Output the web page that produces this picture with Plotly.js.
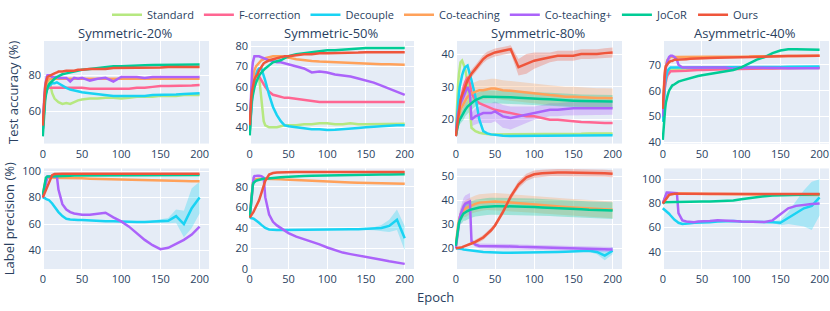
<!DOCTYPE html>
<html><head><meta charset="utf-8">
<script src="https://cdn.plot.ly/plotly-3.0.1.min.js"></script>
<style>html,body{margin:0;padding:0;background:#fff}#chart{width:830px;height:311px}</style>
</head><body><div id="chart"></div>
<script>
// Epoch grid (x values)
const epochs = [0,1,2,3,4,5,6,8,10,12,15,18,20,25,30,35,40,45,50,60,70,80,90,100,110,120,130,140,150,160,170,180,190,200];
const methods = ['Standard','F-correction','Decouple','Co-teaching','Co-teaching+','JoCoR','Ours'];
const panelTitles = ['Symmetric-20%','Symmetric-50%','Symmetric-80%','Asymmetric-40%'];

// ---- Test accuracy, Symmetric-20%
const accStd20  = [50,58,64,68,72,75,77,78,74,70,67,66,65,64,64.5,64,65,66,66.5,67,67,67.5,67.5,67,67.5,68,68,68,68.5,68.5,68.5,69,69,69];
const accFc20   = [50,60,66,69,71,72,72.5,73,73,73,73,73,73,73,73,73,73,73,73,72.5,72.5,72.5,72.5,72.5,72.5,73,73,73.5,74,74,74,74.3,74.3,74.5];
const accDec20  = [50,58,64,68,70,72,73,74,75,75.5,75.5,76,75.5,74,73,72,71.5,71,70.5,70,69.5,69,68.5,68.5,68.5,68.5,68.5,69,69,69,69.2,69.5,69.7,70];
const accCot20  = [50,60,67,71,74,76,77,78,78,78,78,78,78,78,78,78,78,78,78,78,78,78,78,78,78,78,78,78,78,78,78,78,78,78];
const accCotp20 = [50,62,69,74,77,79,80,80,79.5,79,79,79,78.5,78.5,78.5,76.5,78.5,78,78.5,77,78,78.5,76.5,79,79,79,78.5,79,79,79,79,79,79,79];
const accJoc20  = [46,55,62,66,69,71,73,75,76,77,78,79,79.5,80.5,81,81.5,82,82.5,83,83.5,84,84.5,85,85,85.3,85.5,85.5,85.7,85.8,86,86,86,86,86];
const accOurs20 = [52,62,69,73,76,78,79,79.5,80,80.5,81,81.5,82,82,82.5,82.5,82.5,83,83,83.5,83.5,83.5,84,84,84,84,84,84.3,84.3,84.5,84.5,84.5,84.5,84.5];

// ---- Test accuracy, Symmetric-50%
const accStd50  = [38,45,52,57,61,63,65,66,66.5,65,52,43,41,40,40,40,40.5,41,41,41,41.5,41.5,42,42,41.5,41.5,42,41.5,41.5,41.5,41.5,41.5,41.7,41.8];
const accFc50   = [38,46,53,58,61,63,64.5,66,66,65,63,61,60,57.5,56,55.5,55,54.5,54.5,54,53.5,53,52.5,52.5,52.5,52.5,52.5,52.5,52.3,52.3,52.5,52.5,52.5,52.5];
const accDec50  = [38,44,50,55,58,61,63,66,68,69,69,66,63,56,50,46,43,41,40.5,40,39.5,39,39,38.7,38.8,39,39.5,39.7,40,40.3,40.5,40.7,41,41];
const accCot50  = [40,48,55,60,63,66,68,70,71,72,73,73.5,74,74.5,75,75,75,74.5,74.3,73.5,73,72.7,72.4,72.2,72,71.8,71.6,71.5,71.4,71.2,71.1,71,70.9,70.8];
const accCotp50 = [40,52,62,68,72,74,75,75,75,75,74.5,74,74,73,72.5,72,72,71.5,71,70,69,67,67.5,67,66,65.5,65,64,63,62,60.5,59,57.5,56];
const accJoc50  = [36,45,51,54,56,58,59.5,62,64,65.5,67,68.5,69,70.5,72,72.5,73,74,75,76,76.5,77,77.5,78,78,78.3,78.5,78.7,79,79,79,79,79,79];
const accOurs50 = [41,50,55,58,60,62,63.5,65,66,68,70,71.5,72,73,73.5,74,74.5,75,75,75.5,76,76,76.5,76.5,76.5,76.5,76.8,76.8,77,77,77,77,77,77];

// ---- Test accuracy, Symmetric-80%
const accStd80  = [16,22,27,31,34,36,37.5,38,37,35.5,31,22,17.5,16.5,16,15.8,15.6,15.5,15.5,15.5,15.5,15.5,15.5,15.5,15.5,15.6,15.6,15.7,15.7,15.7,15.8,15.8,15.8,15.8];
const accFc80   = [15,18,20,22,24,25,26.5,28,30,31.5,33,31,28,26,25,24.5,24,23.5,23,22.5,22,21.5,21,21,20.5,20,20,19.7,19.5,19.3,19.2,19,19,19];
const accDec80  = [15,19,23,26,28,30,31.5,33.5,35,36,36.5,34,32,27,20,16.5,15.8,15.5,15.3,15.1,15,15,15,15,15,15,15.1,15.1,15.1,15.2,15.2,15.2,15.2,15.2];
const accCot80  = [15,17,19,20,21,22,23,24,25,26,27,27.5,28,28.5,29,29,29.3,29.5,29.5,29,28.8,28.5,28.3,28,27.8,27.5,27.3,27,27,26.8,26.7,26.6,26.6,26.5];
const accCotp80 = [15,18,20,22,23,24,25,26,27,28.5,30,28,20,21,21.5,22,22,22,22.5,21,20.5,21,21.5,22,22.5,23,23,23.3,23.5,23.5,23.5,23.5,23.5,23.5];
const accJoc80  = [15,16.5,17.5,18.5,19.5,20,20.5,21.5,22,23,24,24.5,25,26,26.5,27,27,27,27,27,26.8,26.7,26.5,26.5,26.3,26.2,26,26,25.8,25.7,25.6,25.6,25.5,25.5];
const accOurs80 = [15,17,19,21,23,25,26,27.5,29,30,32,33.5,34,35.5,37,38.5,39.5,40,40.5,41,41.5,36,37,38,38.5,39,39.5,39.5,39.5,40,40,40,40.3,40.5];

// ---- Test accuracy, Asymmetric-40%
const accStd40  = [48,58,63,66,67,67.5,68,68,68.5,68.5,68.5,68.5,68.5,68.5,68.5,68.5,68.5,68.5,68.5,68.5,68.5,68.5,68.5,68.5,68.7,68.7,68.7,68.7,68.8,68.8,68.8,68.8,68.8,68.8];
const accFc40   = [50,56,60,62,64,65,66,67,67.5,67.5,67.5,67.5,67.5,67.5,67.7,67.8,68,68,68,68,68.2,68.3,68.4,68.5,68.5,68.6,68.6,68.6,68.7,68.8,68.8,68.9,69,69];
const accDec40  = [48,55,60,63,65,66,67.5,68.5,69,69,69,69,69,69,69,69,69,69,69,69,69,69,69,69,69,69.1,69.1,69.2,69.2,69.3,69.3,69.3,69.4,69.4];
const accCot40  = [52,60,65,68,70,71,72,72.5,73,73,73,73,73,73,73,73,73,73,73,73,73,73,73,73.2,73.2,73.3,73.3,73.3,73.4,73.4,73.4,73.5,73.5,73.5];
const accCotp40 = [50,58,64,67,69,70.5,71.5,73,73.5,73.5,73,72,70,69,69,69,69,69,69,69,69,69,68.5,69,69,69,68.8,68.8,68.8,68.7,68.7,68.7,68.7,68.7];
const accJoc40  = [41,46,50,53,55.5,57,58,60,61,62,62.5,63,63.5,64,64.5,65,65.5,65.7,66,66.5,67,67.5,68,69,70.5,72,73,74.5,75.5,76,76,76,76,75.8];
const accOurs40 = [53,60,65,68,69.5,70,70.5,71,71.5,71.5,72,72,72,72,72.2,72.3,72.4,72.5,72.5,72.6,72.7,72.8,72.9,73,73,73.1,73.2,73.3,73.3,73.4,73.4,73.5,73.5,73.5];

// ---- Label precision, Symmetric-20%
const preDec20  = [80,80,79.5,79.5,79,79,78.5,78,77,75.5,73,70.5,69,66,64,63.5,63,63,63,62.5,62.5,62,62,61.7,61.5,61.5,61.5,62,62,62.5,66,60,72,80];
const preCot20  = [82,86,89,91,93,94,94.5,95,95,95,95,95,95,95,94.8,94.8,94.7,94.6,94.5,94.3,94.1,94,93.8,93.6,93.4,93.2,93,92.9,92.8,92.7,92.6,92.5,92.4,92.3];
const preCotp20 = [80,83,86,89,92,94,96,96,96,96,96.5,96,86,75,71,69,68,67.5,67,67,68,68.5,65,62,58,53,48,44,41,42,45,48,52,58];
const preJoc20  = [82,86,90,93,95,95.5,96,96,96,96,96,96.3,96.5,96.5,96.5,96.5,96.6,96.6,96.7,96.8,96.8,96.9,97,97,97,97,97,97,97,97,97,97,97,97];
const preOurs20 = [80,81.5,83,84.5,86,87.5,89,92,95,97,97.8,98,98,98,98,98,98,98,98,98,98,98,98,98,98,98,98,98,98,98,98,98,98,98];

// ---- Label precision, Symmetric-50%
const preDec50  = [50,50,49.8,49.5,49.3,49,48.5,47.5,46.5,45,43,41,40,38.5,38,38,38,38,38,38,38,38,38.2,38.3,38.5,38.5,38.7,38.8,39,39.3,40,42,48,30];
const preCot50  = [52,62,72,80,84,86,87,87.5,88,88,88,88,88,88,88,87.8,87.5,87.2,87,86.5,86,85.7,85.4,85,84.7,84.5,84.2,84,83.8,83.6,83.5,83.3,83.2,83];
const preCotp50 = [50,58,68,80,86,89,90.5,91,91,91,90.5,89,70,53,46,42.5,40,37,35,31.5,29,27,24,21,18.5,16,14.5,13.3,12,10.5,9,7.5,6,5];
const preJoc50  = [50,60,70,78,82,84,85,86,86.5,87,87.5,88,88,88.5,89,89.3,89.5,89.7,90,90.3,90.6,90.8,91,91.2,91.4,91.5,91.6,91.7,91.8,91.9,92,92,92.2,92.3];
const preOurs50 = [50,51,52,53.5,55,56,57.5,60.5,64,67,74,81,86,92,93.5,94,94.2,94.3,94.4,94.5,94.5,94.5,94.5,94.5,94.5,94.5,94.5,94.5,94.5,94.5,94.5,94.5,94.5,94.5];

// ---- Label precision, Symmetric-80%
const preDec80  = [20,20,20,20,20,20,19.8,19.7,19.5,19.4,19.2,19,19,18.8,18.7,18.5,18.4,18.3,18.3,18.2,18.2,18.2,18.3,18.3,18.4,18.5,18.5,18.6,18.7,18.8,19,18.5,17,19];
const preCot80  = [21,25,28,30,31.5,33,34,35,36,36.5,37,37.5,38,38.5,39,39.2,39.4,39.5,39.5,39.3,39,38.8,38.5,38.3,38,37.8,37.5,37.2,37,36.8,36.5,36.3,36.2,36];
const preCotp80 = [20,23,26,29,31,32.5,34,36,37.5,38.5,39,39.5,23,21.5,21,21,21,21,21,20.8,20.8,20.6,20.5,20.4,20.3,20.2,20.1,20,20,19.9,19.8,19.7,19.6,19.5];
const preJoc80  = [21,24,27,29,30.5,31.5,32.5,33.5,34.5,35,35.5,36,36.2,36.7,37,37.2,37.4,37.5,37.5,37.5,37.5,37.4,37.3,37.2,37,36.9,36.7,36.5,36.3,36.2,36,35.9,35.8,35.7];
const preOurs80 = [20,20,20,20,20.1,20.2,20.3,20.5,20.7,21,21.3,21.7,22,22.7,23.5,24.5,26,27.5,29.5,35,41.5,46.5,49.5,50.8,51.2,51.5,51.5,51.5,51.5,51.5,51.4,51.3,51.2,51];

// ---- Label precision, Asymmetric-40%
const preDec40  = [76,75.5,75,74.5,74,73.5,73,71.5,70,68.5,66.5,65,64,63,63,63.5,64,64,64,64.5,65,65.5,65.5,65,65,65,65,64.5,64,68,72,76,78,85];
const preCot40  = [80,82,84,86,87,88,88.5,88.5,88.5,88.5,88.5,88.5,88.5,88.3,88.2,88.1,88,88,88,87.9,87.8,87.7,87.6,87.5,87.5,87.4,87.3,87.2,87.2,87.1,87.1,87,87,87];
const preCotp40 = [80,82,84,86,88,89,89,89,89,89,89,88.5,72,66,65,64.5,64.5,65,65,65.5,66,66,65.5,65,65,64.8,64.7,66,71,76,78,79,79.5,80];
const preJoc40  = [80,80.5,81,81,81,81,81,81,81,81,81.2,81.3,81.3,81.4,81.5,81.5,81.5,81.5,81.6,81.7,81.8,82,82.5,83.5,84.5,85.5,86,86.5,86.8,87,87.2,87.4,87.5,87.6];
const preOurs40 = [80,81,82,83,84,85,86,87,87.5,87.8,88,88,88,88,88,88,88,88,88,88,88,88,88,88,88,88,88,88,88,88,87.9,87.9,87.8,87.8];

// ---- std-dev bands (read from the shaded regions)
const sdCot80   = [0,0.5,1,1.5,2,2,2.5,2.5,3,3,3,3,3,3,3,3,3,3,3,3,3,3,3,3,3,3,3,3,3,3,3,3,3,3];
const sdJoc80   = [0,0.5,1,1,1.5,1.5,1.5,2,2,2,2,2,2,2,2,2,2,2,2,2,2,2,2,2,2,2,2,2,2,2,2,2,2,2];
const sdCotp80  = [0,0.5,1,1,1.5,1.5,1.5,2,2,2,2,2,2,2.5,2.5,3,3,3,3,3.5,3.5,3,2.5,2,2,2,2,2,2,2,2,2,2,2];
const sdOurs80  = [0,0.5,0.5,1,1,1,1,1,1,1,1.2,1.2,1.2,1.2,1.2,1.2,1.2,1.2,1.2,1.2,1.2,2.5,3,2.5,2,1.5,1.5,1.5,1.5,1.5,1.5,1.5,1.5,1.5];
const sdCotP80b = [0,1,1.5,2,2.5,3,3,3,3.5,3.5,3.5,3.5,1,1,1,1,1,1,1,1,1,1,1,1,1,1,1,1,1,1,1,1,1,1];
const sdCot80b  = [0,1,1.5,2,2,2.5,2.5,3,3,3.5,3.5,3.5,3.5,3.5,3.5,3.5,3.5,3.5,3.5,3.5,3.5,3.5,3.5,3.5,3.5,3.5,3.5,3.5,3.5,3.5,3.5,3.5,3.5,3.5];
const sdJoc80b  = [0,1,1.5,2,2,2.5,2.5,3,3,3.5,3.5,3.5,3.5,3.5,3.5,3.5,3.5,3.5,3.5,3.5,3.5,3.5,3.5,3.5,3.5,3.5,3.5,3.5,3.5,3.5,3.5,3.5,3.5,3.5];
const sdOurs80b = [0,0,0,0,0,0,0,0,0,0.3,0.5,0.5,0.5,0.7,1,1,1,1,1,1.2,1.3,1.5,1.5,1.5,1.5,1.5,1.5,1.5,1.5,1.5,1.5,1.5,1.5,1.5];
const sdDec80b  = [0,0,0,0,0,0,0,0,0,0,0,0,0,0,0,0,0,0,0,0,0,0,0,0,0,0,0,0,0,0,0.5,1,2,1.5];
const sdDec20b  = [0,0,0,0,0,0,0,0,0,0,0,0,0,0,0,0,0,0,0,0,0,0,0,0,0,0,0,0.5,1,2,5,10,15,12];
const sdDec50b  = [0,0,0,0,0,0,0,0,0,0,0,0,0,0,0,0,0,0,0,0,0,0,0,0,0,0,0,0.5,1,1.5,3,6,10,12];
const sdDec40b  = [0,0,0,0,0,0,0,0,0,0,0,0,0,0,0,0,0,0,0,0,0,0,0,0,0,0,0,0.5,2,5,10,15,20,15];

const colors = {'Standard':'#B6E880','F-correction':'#FF6692','Decouple':'#19D3F3','Co-teaching':'#FFA15A','Co-teaching+':'#AB63FA','JoCoR':'#00CC96','Ours':'#EF553B'};

const panels = [
  {ax:1, series:{'Standard':accStd20,'F-correction':accFc20,'Decouple':accDec20,'Co-teaching':accCot20,'Co-teaching+':accCotp20,'JoCoR':accJoc20,'Ours':accOurs20}, bands:{}, legend:true},
  {ax:2, series:{'Standard':accStd50,'F-correction':accFc50,'Decouple':accDec50,'Co-teaching':accCot50,'Co-teaching+':accCotp50,'JoCoR':accJoc50,'Ours':accOurs50}, bands:{}},
  {ax:3, series:{'Standard':accStd80,'F-correction':accFc80,'Decouple':accDec80,'Co-teaching':accCot80,'Co-teaching+':accCotp80,'JoCoR':accJoc80,'Ours':accOurs80}, bands:{'Co-teaching':sdCot80,'JoCoR':sdJoc80,'Co-teaching+':sdCotp80,'Ours':sdOurs80}},
  {ax:4, series:{'Standard':accStd40,'F-correction':accFc40,'Decouple':accDec40,'Co-teaching':accCot40,'Co-teaching+':accCotp40,'JoCoR':accJoc40,'Ours':accOurs40}, bands:{}},
  {ax:5, series:{'Decouple':preDec20,'Co-teaching':preCot20,'Co-teaching+':preCotp20,'JoCoR':preJoc20,'Ours':preOurs20}, bands:{'Decouple':sdDec20b}},
  {ax:6, series:{'Decouple':preDec50,'Co-teaching':preCot50,'Co-teaching+':preCotp50,'JoCoR':preJoc50,'Ours':preOurs50}, bands:{'Decouple':sdDec50b}},
  {ax:7, series:{'Decouple':preDec80,'Co-teaching':preCot80,'Co-teaching+':preCotp80,'JoCoR':preJoc80,'Ours':preOurs80}, bands:{'Co-teaching':sdCot80b,'JoCoR':sdJoc80b,'Co-teaching+':sdCotP80b,'Ours':sdOurs80b,'Decouple':sdDec80b}},
  {ax:8, series:{'Decouple':preDec40,'Co-teaching':preCot40,'Co-teaching+':preCotp40,'JoCoR':preJoc40,'Ours':preOurs40}, bands:{'Decouple':sdDec40b}}
];

function hexToRgba(h,a){const n=parseInt(h.slice(1),16);return `rgba(${(n>>16)&255},${(n>>8)&255},${n&255},${a})`;}

const traces = [];
panels.forEach(p=>{
  const xa = p.ax===1?'x':'x'+p.ax, ya = p.ax===1?'y':'y'+p.ax;
  methods.forEach(m=>{
    const sd = p.bands[m]; const v = p.series[m];
    if(sd && v){
      const up = v.map((d,i)=>d+sd[i]); const lo = v.map((d,i)=>d-sd[i]);
      traces.push({x:epochs.concat(epochs.slice().reverse()), y:up.concat(lo.slice().reverse()), xaxis:xa, yaxis:ya,
        type:'scatter', mode:'lines', fill:'toself', fillcolor:hexToRgba(colors[m],0.3), line:{width:0}, hoverinfo:'skip', showlegend:false});
    }
  });
  methods.forEach(m=>{
    const v = p.series[m]; if(!v) return;
    traces.push({x:epochs, y:v, xaxis:xa, yaxis:ya, type:'scatter', mode:'lines', name:m, legendgroup:m,
      showlegend:!!p.legend, line:{color:colors[m], width:2.5}});
  });
});

const xDom = [[0,0.2122],[0.2630,0.4727],[0.5248,0.7370],[0.7878,1]];
const yDom = [[0.5502,1],[0,0.441]];
const yRanges = [[42,99],[32,82.5],[12.7,44],[39.6,79.2],[26,102],[0,98],[11.4,53.2],[25.7,109]];
const yDtick = [20,10,10,10,20,20,10,20];
const tickFont = {size:11, color:'#2a3f5f'};

const layout = {
  width:830, height:311, margin:{l:42,r:1,t:40,b:42},
  paper_bgcolor:'#fff', plot_bgcolor:'#E5ECF6',
  font:{family:'"Open Sans", verdana, arial, sans-serif', color:'#2a3f5f', size:11},
  showlegend:true,
  legend:{orientation:'h', x:0.5, xanchor:'center', y:1.11, yanchor:'middle', font:{size:11}, bgcolor:'rgba(0,0,0,0)'},
  annotations:[]
};
for(let i=1;i<=8;i++){
  const col=(i-1)%4, row=i>4?1:0;
  const xk = i===1?'xaxis':'xaxis'+i, yk = i===1?'yaxis':'yaxis'+i;
  layout[xk] = {domain:xDom[col], anchor:i===1?'y':'y'+i, range:[-1,212], dtick:50, tick0:0, showgrid:true, gridcolor:'#fff', gridwidth:1, zeroline:true, zerolinecolor:'#fff', zerolinewidth:2, tickfont:tickFont, linecolor:'#fff'};
  layout[yk] = {domain:yDom[row], anchor:i===1?'x':'x'+i, range:yRanges[i-1], dtick:yDtick[i-1], tick0:0, showgrid:true, gridcolor:'#fff', gridwidth:1, zeroline:false, tickfont:tickFont};
}
layout.yaxis.title = {text:'Test accuracy (%)', font:{size:13}, standoff:6};
layout.yaxis5.title = {text:'Label precision (%)', font:{size:13}, standoff:6};
layout.annotations.push({text:'Epoch', xref:'paper', yref:'paper', x:0.5, y:0, yshift:-28, xanchor:'center', yanchor:'middle', showarrow:false, font:{size:13}});
panelTitles.forEach((t,c)=>{
  layout.annotations.push({text:t, xref:'paper', yref:'paper', x:(xDom[c][0]+xDom[c][1])/2, y:1, yshift:8, xanchor:'center', yanchor:'middle', showarrow:false, font:{size:13}});
});

Plotly.newPlot('chart', traces, layout, {displayModeBar:false, staticPlot:true});
</script></body></html>
